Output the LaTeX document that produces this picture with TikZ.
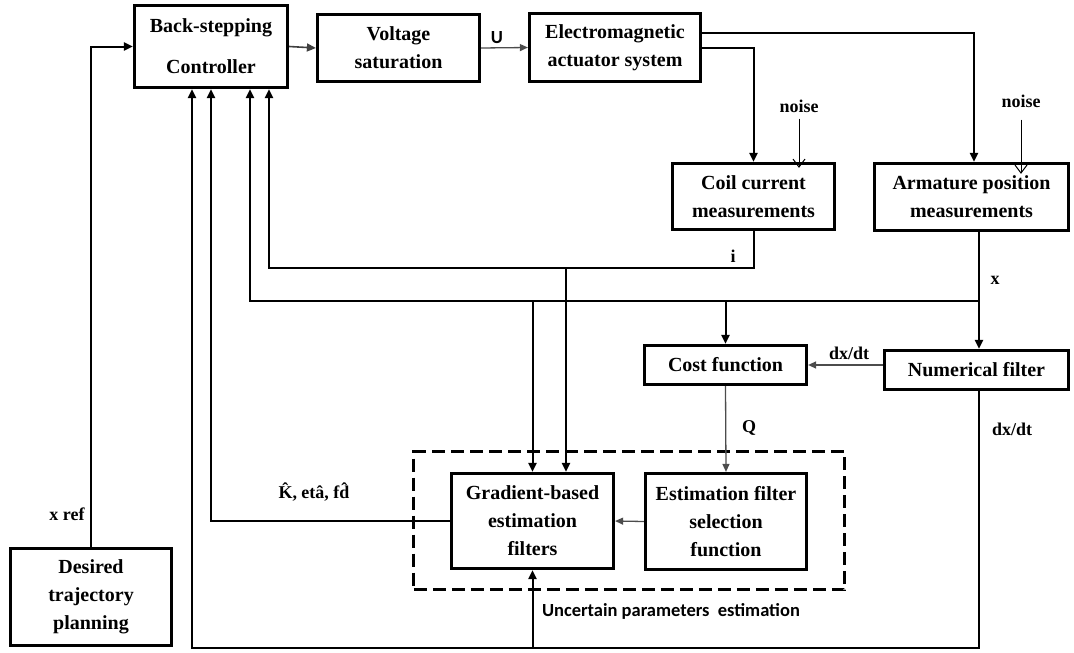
\documentclass[tikz,border=0pt]{standalone}
\usepackage{fontspec}
\setmainfont{Liberation Serif}
\newfontfamily\sansf{Carlito}
\usetikzlibrary{arrows.meta,calc}
\begin{document}
\begin{tikzpicture}[x=1pt,y=-1pt,
  blk/.style={draw, line width=3.2pt, inner sep=0pt, align=center,
              font=\bfseries\fontsize{20}{28}\selectfont},
  conn/.style={line width=2pt, -{Triangle[length=9pt,width=8pt]}},
  midarr/.style={line width=1.6pt, draw=black!75, -{Triangle[length=9pt,width=8pt]}},
  thinarr/.style={line width=1.3pt, draw=black!70, -{Triangle[length=8pt,width=7pt]}},
  noisearr/.style={line width=1pt, -{Straight Barb[length=8pt,width=12pt]}},
  lbl/.style={font=\bfseries\fontsize{18}{20}\selectfont, inner sep=0pt},
  slbl/.style={font=\sansf\bfseries\fontsize{18.5}{20}\selectfont, inner sep=0pt},
  dbox/.style={draw, line width=3pt, dash pattern=on 13pt off 6pt, inner sep=0pt}
]
\useasboundingbox (0,0) rectangle (1074,653);

% dashed group
\node[dbox, minimum width=431pt, minimum height=138pt] (ubox) at (629.25,520.5) {};

% blocks
\node[blk, minimum width=153pt, minimum height=82pt,
      font=\bfseries\fontsize{20}{41}\selectfont] (bs) at (211,46.5) {Back-stepping\\Controller};
\node[blk, minimum width=162pt, minimum height=67pt] (vs) at (398.5,48) {Voltage\\saturation};
\node[blk, minimum width=171pt, minimum height=68pt] (em) at (615,47.5) {Electromagnetic\\actuator system};
\node[blk, minimum width=162pt, minimum height=66pt] (coil) at (753.5,196.5) {Coil current\\measurements};
\node[blk, minimum width=194pt, minimum height=67pt] (arm) at (971.5,197) {Armature position\\measurements};
\node[blk, minimum width=162pt, minimum height=39pt] (cost) at (725.5,365) {Cost function};
\node[blk, minimum width=184pt, minimum height=39pt] (nf) at (976.5,370) {Numerical filter};
\node[blk, minimum width=162pt, minimum height=95pt] (grad) at (532.5,521) {Gradient-based\\estimation\\filters};
\node[blk, minimum width=161pt, minimum height=96pt] (est) at (726,521.5) {Estimation filter\\selection\\function};
\node[blk, minimum width=161pt, minimum height=97pt] (des) at (91,597) {Desired\\trajectory\\planning};

% labels
\node[slbl] (lu) at (497,38) {U};
\node[lbl] (n1) at (799,106) {noise};
\node[lbl] (n2) at (1021,101) {noise};
\node[lbl] (li) at (733,256) {i};
\node[lbl] (lx) at (995,280) {x};
\node[lbl] (ldx1) at (849,353) {dx/dt};
\node[lbl] (lq) at (749,428) {Q};
\node[lbl] (ldx2) at (1012,429) {dx/dt};
\node[lbl] (lhat) at (314,492) {\^{K}, et\^{a}, f\^{d}};
\node[lbl] (lxref) at (67,514) {x ref};
\node[slbl] (lunc) at (671,611) {Uncertain parameters~ estimation};

% connectors
\draw[conn] (des.north) |- (bs.west);
\draw[midarr] (bs.east) -- (vs.west);
\draw[thinarr] (vs.east) -- (em.west);
\draw[conn] ([yshift=14.5pt]em.east) -| ([xshift=2.5pt]arm.north);
\draw[conn] (em.east) -| (coil.north);
\draw[noisearr] ([yshift=-6pt]n1.south) -- ([yshift=-6pt]n1.south |- coil.north);
\draw[noisearr] ([yshift=-12pt]n2.south) -- ([yshift=-12pt]n2.south |- arm.north);

\draw[conn] (coil.south) -- ++(0,37) coordinate (ic) -| ([xshift=58pt]bs.south);
\draw[conn] ([xshift=33.5pt]grad.north |- ic) -- ([xshift=33.5pt]grad.north);

\draw[conn] ([xshift=7.5pt]arm.south) -- ++(0,69) coordinate (xc) -- (xc |- nf.north);
\draw[conn] (xc) -| ([xshift=39pt]bs.south);
\draw[conn] (cost.north |- xc) -- (cost.north);
\draw[conn] (grad.north |- xc) -- (grad.north);

\draw[thinarr] (cost.east -| nf.west) -- (cost.east);
\draw[thinarr] (cost.south) -- (est.north);
\draw[thinarr] (est.west) -- (grad.east);
\draw[conn] (grad.west) -| (bs.south);

\draw[conn] ([xshift=2.5pt]nf.south) -- ++(0,257) coordinate (bc) -| ([xshift=-19pt]bs.south);
\draw[conn] (grad.south |- bc) -- (grad.south);
\end{tikzpicture}
\end{document}
